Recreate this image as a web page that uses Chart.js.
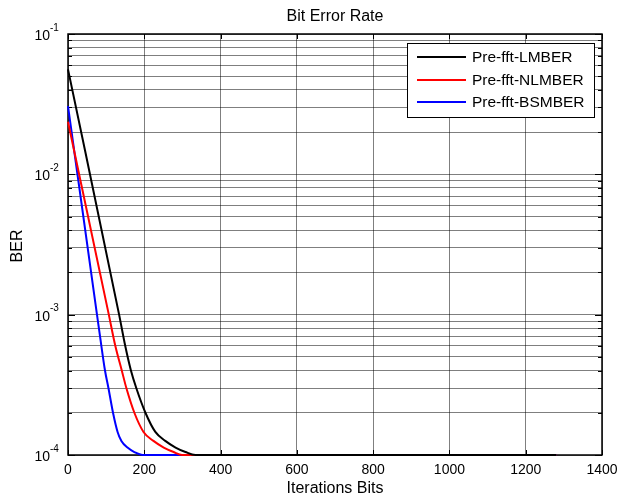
<!DOCTYPE html>
<html>
<head>
<meta charset="utf-8">
<script src="https://cdn.jsdelivr.net/npm/chart.js@4/dist/chart.umd.min.js"></script>
<style>
  html, body { margin: 0; padding: 0; background: #fff; }
  #wrap { width: 619px; height: 497px; }
</style>
</head>
<body>
<div id="wrap"><canvas id="myChart" width="619" height="497"></canvas></div>
<script>
// data
const seriesNames = ["Pre-fft-LMBER", "Pre-fft-NLMBER", "Pre-fft-BSMBER"];
const seriesColors = ["#000000", "#ff0000", "#0000ff"];

const lmX = [0, 134, 150, 165, 179, 203, 229, 255, 282, 308, 334, 1280];
const lmY = [0.056, 1e-3, 6e-4, 4e-4, 3e-4, 2e-4, 1.46e-4, 1.26e-4, 1.13e-4, 1.05e-4, 1e-4, 1e-4];

const nlX = [0, 107, 124, 141, 153, 174, 198, 224, 251, 277, 299, 1280];
const nlY = [0.0237, 1e-3, 6e-4, 4e-4, 3e-4, 2e-4, 1.46e-4, 1.26e-4, 1.13e-4, 1.05e-4, 1e-4, 1e-4];

const bsX = [0, 76, 84, 97, 106, 118, 130, 140, 156, 174, 196, 1280];
const bsY = [0.0306, 1e-3, 7e-4, 4e-4, 3e-4, 2e-4, 1.46e-4, 1.26e-4, 1.13e-4, 1.05e-4, 1e-4, 1e-4];

const xTicks = [0, 200, 400, 600, 800, 1000, 1200, 1400];
const yDecades = [-4, -3, -2, -1];
const yMinor = [1, 2, 3, 4, 5, 6, 7, 8, 9];

const titleText = "Bit Error Rate";
const xTitle = "Iterations Bits";
const yTitle = "BER";

const FONT = "'Liberation Sans', Arial, sans-serif";

let yGrid = [];
yDecades.forEach(d => {
  if (d === yDecades[yDecades.length - 1]) { yGrid.push(Math.pow(10, d)); return; }
  yMinor.forEach(m => yGrid.push(m * Math.pow(10, d)));
});

function pts(xs, ys) {
  return xs.map((x, i) => ({ x: x, y: ys[i] }));
}

const allX = [lmX, nlX, bsX];
const allY = [lmY, nlY, bsY];

const data = {
  datasets: seriesNames.map((name, i) => ({
    label: name,
    data: pts(allX[i], allY[i]),
    borderColor: seriesColors[i],
    borderWidth: 2,
    pointRadius: 0,
    fill: false,
    cubicInterpolationMode: "monotone",
    clip: 4,
  })),
};

// frame, tick marks, labels and legend drawn onto the canvas
const decor = {
  id: "decor",
  beforeDatasetsDraw(chart) {
    const c = chart.ctx;
    const a = chart.chartArea;
    const xs = chart.scales.x, ys = chart.scales.y;
    c.save();
    c.strokeStyle = "#000";
    c.lineWidth = 1;
    c.beginPath();
    xTicks.forEach(v => {
      const px = Math.round(xs.getPixelForValue(v)) + 0.5;
      c.moveTo(px, a.bottom); c.lineTo(px, a.bottom - 5);
      c.moveTo(px, a.top); c.lineTo(px, a.top + 5);
    });
    yGrid.forEach(v => {
      const py = Math.round(ys.getPixelForValue(v)) + 0.5;
      const len = yDecades.some(d => Math.abs(Math.pow(10, d) - v) < v * 1e-6) ? 7 : 4;
      c.moveTo(a.left, py); c.lineTo(a.left + len, py);
      c.moveTo(a.right, py); c.lineTo(a.right - len, py);
    });
    c.stroke();
    c.lineWidth = 1.5;
    c.strokeRect(a.left, a.top, a.right - a.left, a.bottom - a.top);
    c.restore();
  },
  afterDraw(chart) {
    const c = chart.ctx;
    const a = chart.chartArea;
    const xs = chart.scales.x, ys = chart.scales.y;
    c.save();
    c.fillStyle = "#000";

    // title
    c.font = "16px " + FONT;
    c.textAlign = "center";
    c.textBaseline = "middle";
    c.fillText(titleText, (a.left + a.right) / 2, 17);

    // x tick labels
    c.font = "14px " + FONT;
    xTicks.forEach(v => {
      c.fillText(String(v), xs.getPixelForValue(v), 470);
    });
    c.font = "16px " + FONT;
    c.fillText(xTitle, (a.left + a.right) / 2, 489);

    // y tick labels 10^d
    yDecades.forEach(d => {
      const py = ys.getPixelForValue(Math.pow(10, d));
      c.font = "14px " + FONT;
      c.textAlign = "right";
      c.textBaseline = "middle";
      c.fillText("10", 50, py + 2);
      c.font = "10px " + FONT;
      c.textAlign = "left";
      c.fillText(String(d), 50, py - 6);
    });

    // y title
    c.save();
    c.translate(18, 246);
    c.rotate(-Math.PI / 2);
    c.font = "16px " + FONT;
    c.textAlign = "center";
    c.textBaseline = "middle";
    c.fillText(yTitle, 0, 0);
    c.restore();

    // legend box
    const bx = 407, by = 43, bw = 187, bh = 74;
    c.fillStyle = "#fff";
    c.fillRect(bx, by, bw, bh);
    c.strokeStyle = "#000";
    c.lineWidth = 1;
    c.strokeRect(bx + 0.5, by + 0.5, bw, bh);
    const rows = [57, 80, 102];
    seriesNames.forEach((name, i) => {
      c.strokeStyle = seriesColors[i];
      c.lineWidth = 2;
      c.beginPath();
      c.moveTo(417, rows[i]); c.lineTo(466, rows[i]);
      c.stroke();
      c.fillStyle = "#000";
      c.font = "15.5px " + FONT;
      c.textAlign = "left";
      c.textBaseline = "middle";
      c.fillText(name, 472, rows[i] + 1);
    });
    c.restore();
  },
};

const config = {
  type: "line",
  data: data,
  options: {
    responsive: false,
    animation: false,
    layout: { padding: { top: 34, right: 17, left: 0, bottom: 0 } },
    plugins: {
      legend: { display: false },
      title: { display: false },
      tooltip: { enabled: false },
    },
    scales: {
      x: {
        type: "linear",
        min: 0,
        max: 1400,
        afterBuildTicks: s => { s.ticks = xTicks.map(v => ({ value: v })); },
        afterFit: s => { s.height = 42; },
        ticks: { display: false },
        grid: { color: "rgba(0,0,0,0.5)", lineWidth: 1, drawTicks: false },
        border: { display: false },
      },
      y: {
        type: "logarithmic",
        min: 1e-4,
        max: 1e-1,
        afterBuildTicks: s => { s.ticks = yGrid.map(v => ({ value: v })); },
        afterFit: s => { s.width = 68; },
        ticks: { display: false },
        grid: { color: "rgba(0,0,0,0.5)", lineWidth: 1, drawTicks: false },
        border: { display: false },
      },
    },
  },
  plugins: [decor],
};

const ctx = document.getElementById("myChart").getContext("2d");
const myChart = new Chart(ctx, config);
</script>
</body>
</html>
